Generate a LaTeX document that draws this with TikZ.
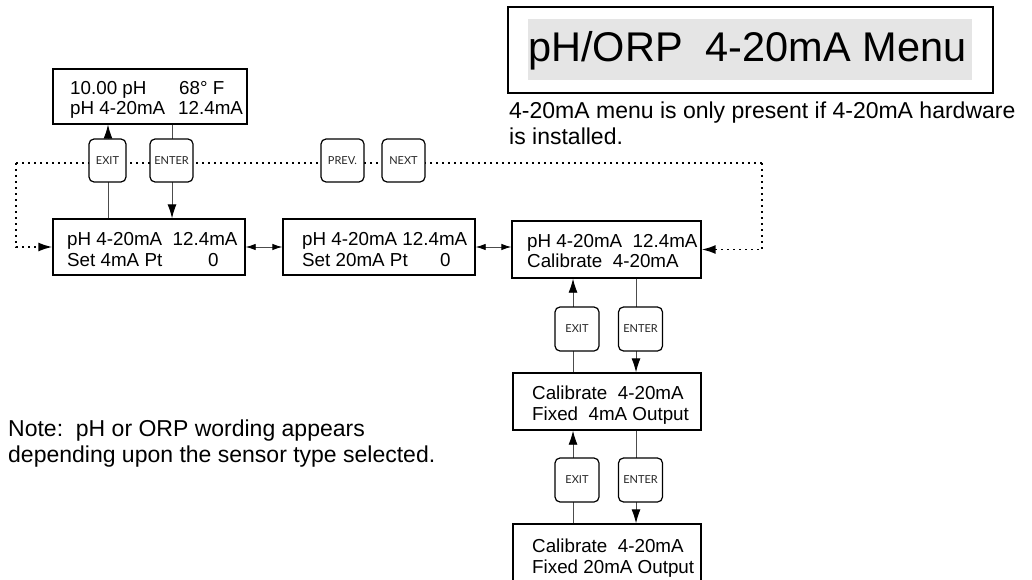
\documentclass[tikz,border=0pt]{standalone}
\usepackage{fontspec}
\setmainfont{Liberation Sans}
\newfontfamily\btnfont{Lato}
\usetikzlibrary{arrows.meta}
\newcommand{\twoln}[3][21pt]{\vtop{\baselineskip=#1\hbox{#2}\hbox{#3}}}
\begin{document}
\begin{tikzpicture}[x=1pt,y=-1pt,
  box/.style={draw, line width=1.4pt, inner sep=0pt, fill=white},
  btn/.style={draw, line width=1.2pt, rounded corners=5pt, fill=white, inner sep=0pt,
    minimum height=43pt, minimum width=43pt, text=black!85, font=\btnfont\fontsize{11}{12}\selectfont},
  txt/.style={anchor=base west, inner sep=0pt, font=\fontsize{18.8}{21}\selectfont},
  big/.style={anchor=base west, inner sep=0pt, font=\fontsize{23}{26}\selectfont},
  conn/.style={line width=0.9pt, draw=black!70},
  arr/.style={-{Latex[length=14pt,width=9pt,color=black]}},
  dbl/.style={{Latex[length=10pt,width=6.5pt,color=black]}-{Latex[length=10pt,width=6.5pt,color=black]}},
  dots/.style={line width=1.6pt, dash pattern=on 1.6pt off 4.4pt},
]
\useasboundingbox[fill=white] (0,0) rectangle (1032,580);

% title
\node[draw, line width=1.4pt, minimum width=485pt, minimum height=86pt, inner sep=0pt] (title) at (750.5,50) {};
\node[fill=black!10, minimum width=444pt, minimum height=61pt, inner sep=0pt] (titlebg) at (750,49.5) {};
\node[anchor=base west, inner sep=0pt, font=\fontsize{41.5}{48}\selectfont] (titletxt) at (528,62) {pH/ORP\ \ 4-20mA Menu};
\node[big] (desc) at (509,119) {\twoln[26pt]{4-20mA menu is only present if 4-20mA hardware}{is installed.}};
\node[big] (note) at (8,436) {\twoln[26pt]{Note:\ \ pH or ORP wording appears}{depending upon the sensor type selected.}};

% boxes
\node[box, minimum width=194pt, minimum height=55pt] (b0) at (150,96.5) {};
\node[box, minimum width=192pt, minimum height=56pt] (b1) at (149,247) {};
\node[box, minimum width=192pt, minimum height=56pt] (b2) at (379,247) {};
\node[box, minimum width=189pt, minimum height=57pt] (b3) at (606.5,249.5) {};
\node[box, minimum width=188pt, minimum height=57pt] (b4) at (607,401.5) {};
\node[box, minimum width=188pt, minimum height=57pt] (b5) at (607,552.5) {};

\node[txt] (t0) at (70,95) {\twoln[20pt]{\makebox[109pt][l]{10.00 pH}68° F}{\makebox[108pt][l]{pH 4-20mA}12.4mA}};
\node[txt] (t1) at (67,245) {\twoln{pH 4-20mA\ \ 12.4mA}{\makebox[141pt][l]{Set 4mA Pt}0}};
\node[txt] (t2) at (302,245) {\twoln{pH 4-20mA 12.4mA}{\makebox[138pt][l]{Set 20mA Pt}0}};
\node[txt] (t3) at (527,247) {\twoln[20pt]{pH 4-20mA\ \ 12.4mA}{Calibrate\ \ 4-20mA}};
\node[txt] (t4) at (532,399) {\twoln{Calibrate\ \ 4-20mA}{Fixed\ \ 4mA Output}};
\node[txt] (t5) at (532,552) {\twoln{Calibrate\ \ 4-20mA}{Fixed 20mA Output}};

% dotted navigation line
\coordinate (dl) at (16,163);
\coordinate (dr) at (762,163);
\draw[dots] (dl) -- (dr);
\draw[dots, arr] (dl) -- (dl |- b1.west) -- (b1.west);
\draw[dots, arr] (dr) -- (dr |- b3.east) -- (b3.east);

% top connectors
\coordinate (xe) at (108,0);
\coordinate (xn) at (172,0);
\draw[conn, arr] (b1.north -| xe) -- (b0.south -| xe);
\draw[conn, arr] (b0.south -| xn) -- (b1.north -| xn);
\draw[conn, dbl] (b1.east) -- (b2.west);
\draw[conn, dbl] (b2.east) -- (b2.east -| b3.west);

% bottom connectors
\coordinate (x1) at (573,0);
\coordinate (x2) at (636,0);
\draw[conn, arr] (b4.north -| x1) -- (b3.south -| x1);
\draw[conn, arr] (b3.south -| x2) -- (b4.north -| x2);
\draw[conn, arr] (b5.north -| x1) -- (b4.south -| x1);
\draw[conn, arr] (b4.south -| x2) -- (b5.north -| x2);

% buttons
\node[btn, minimum width=37pt] (e1) at (107.5,160.5) {EXIT};
\node[btn] (n1) at (171.5,160.5) {ENTER};
\node[btn] (pv) at (342.5,160.5) {PREV.};
\node[btn] (nx) at (403.5,160.5) {NEXT};
\node[btn, minimum width=44pt, minimum height=44pt] (e2) at (577,329) {EXIT};
\node[btn, minimum width=44pt, minimum height=44pt] (n2) at (640.5,329) {ENTER};
\node[btn, minimum width=44pt, minimum height=44pt] (e3) at (577,480) {EXIT};
\node[btn, minimum width=44pt, minimum height=44pt] (n3) at (640.5,480) {ENTER};
\end{tikzpicture}
\end{document}
